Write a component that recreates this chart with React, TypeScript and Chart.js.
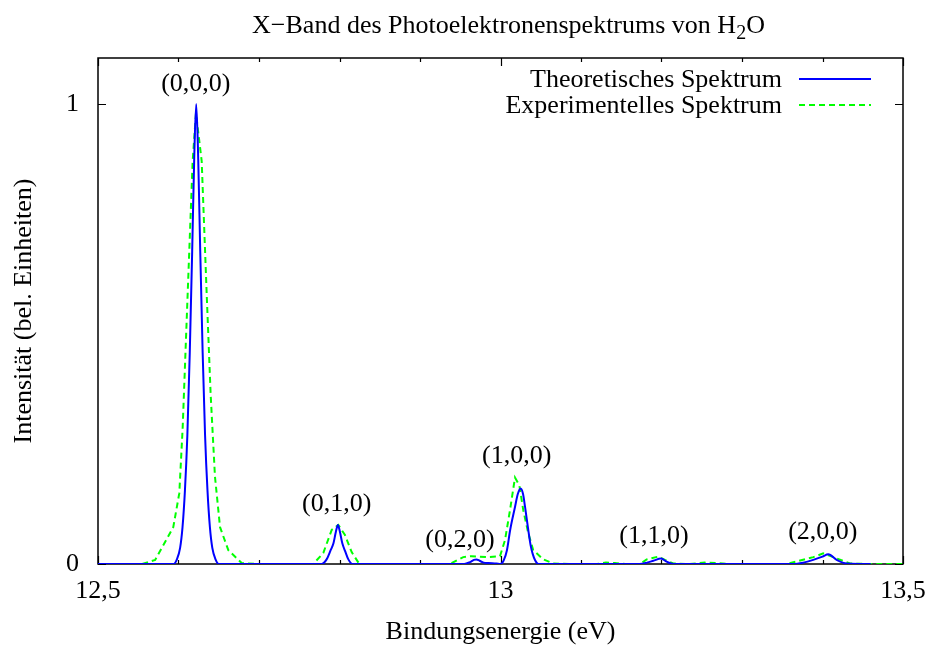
import React, { useEffect, useRef } from 'react';
import { Chart, registerables } from 'chart.js';

Chart.register(...registerables);

// ---- Data ----
const theoX = [
  12.5, 12.594, 12.598, 12.602, 12.605, 12.608, 12.611, 12.614, 12.617, 12.6195, 12.622,
  12.6245, 12.627, 12.63, 12.633, 12.636, 12.639, 12.642, 12.646, 12.65,
  12.778, 12.784, 12.789, 12.7925, 12.7955, 12.798, 12.8005, 12.8035, 12.807, 12.811, 12.816,
  12.955, 12.962, 12.967, 12.97, 12.974, 12.979, 12.985, 12.995,
  13.0, 13.004, 13.008, 13.012, 13.018, 13.0215, 13.025, 13.028, 13.0305, 13.0345, 13.0375, 13.04, 13.043, 13.047,
  13.173, 13.182, 13.1898, 13.1994, 13.2064, 13.2147,
  13.3637, 13.376, 13.3885, 13.4, 13.4072, 13.4176, 13.43, 13.46,
];
const theoY = [
  0, 0, 0.01, 0.035, 0.08, 0.16, 0.28, 0.46, 0.68, 0.88, 1.0,
  0.88, 0.68, 0.46, 0.28, 0.16, 0.08, 0.035, 0.01, 0,
  0, 0.01, 0.03, 0.045, 0.07, 0.085, 0.07, 0.045, 0.028, 0.01, 0,
  0, 0.004, 0.009, 0.01, 0.007, 0.003, 0.002, 0.001,
  0, 0.008, 0.03, 0.074, 0.124, 0.152, 0.164, 0.152, 0.124, 0.074, 0.04, 0.022, 0.008, 0,
  0, 0.003, 0.007, 0.012, 0.005, 0,
  0, 0.003, 0.009, 0.016, 0.021, 0.009, 0.001, 0,
];

const expX = [
  12.555, 12.571, 12.5935, 12.601, 12.6052, 12.6114, 12.6176, 12.6217, 12.6288, 12.635, 12.6399,
  12.6453, 12.6516, 12.6619, 12.6785, 12.7, 12.74,
  12.7674, 12.7799, 12.7903, 12.7985, 12.8068, 12.8151, 12.8246, 12.86, 12.9,
  12.9373, 12.9537, 12.9641, 12.9829, 12.9994, 13.0056, 13.0118, 13.018, 13.0234, 13.0283,
  13.0345, 13.0407, 13.0532, 13.0656, 13.09, 13.12, 13.131, 13.142, 13.155,
  13.1733, 13.1816, 13.196, 13.2043, 13.2147, 13.235, 13.254, 13.27, 13.285,
  13.3555, 13.3885, 13.4009, 13.4134, 13.4341, 13.46, 13.5,
];
const expY = [
  0, 0.009, 0.08, 0.154, 0.297, 0.588, 0.876, 0.98, 0.876, 0.588, 0.37,
  0.19, 0.08, 0.03, 0.002, 0, 0,
  0, 0.024, 0.074, 0.085, 0.063, 0.026, 0, 0, 0,
  0, 0.015, 0.017, 0.015, 0.017, 0.052, 0.117, 0.188, 0.171, 0.117,
  0.067, 0.03, 0.01, 0.001, 0, 0, 0.003, 0.002, 0,
  0, 0.01, 0.016, 0.009, 0.001, 0, 0.003, 0.002, 0,
  0, 0.015, 0.023, 0.015, 0.001, 0, 0,
];

const xMajorTicks = [12.5, 13, 13.5];
const xMinorTicks = [12.6, 12.7, 12.8, 12.9, 13.1, 13.2, 13.3, 13.4];
const yMajorTicks = [0, 1];

const peakLabels = ['(0,0,0)', '(0,1,0)', '(0,2,0)', '(1,0,0)', '(1,1,0)', '(2,0,0)'];
const peakLabelX = [12.6215, 12.7965, 12.9497, 13.0201, 13.1907, 13.4004];
const peakLabelY = [1.028, 0.116, 0.038, 0.22, 0.0467, 0.0553];

const seriesNames = ['Theoretisches Spektrum', 'Experimentelles Spektrum'];
const titleMain = 'X\u2212Band des Photoelektronenspektrums von H';
const titleSub = '2';
const titleEnd = 'O';
const xTitle = 'Bindungsenergie (eV)';
const yTitle = 'Intensität (bel. Einheiten)';

// ---- Styles ----
const FONT = '"Liberation Serif", "Times New Roman", serif';
const FS = 26;
const BLUE = '#0000ff';
const GREEN = '#00ff00';
const DASH = [6, 4];

const decorPlugin = {
  id: 'decor',
  beforeDatasetsDraw(chart: any) {
    const { ctx, chartArea: a } = chart;
    const x = chart.scales.x;
    const y = chart.scales.y;
    ctx.save();
    ctx.strokeStyle = '#000';
    ctx.lineWidth = 1.5;
    ctx.strokeRect(a.left, a.top, a.right - a.left, a.bottom - a.top);
    ctx.lineWidth = 1.2;
    ctx.beginPath();
    const major = 8;
    const minor = 4;
    xMajorTicks.forEach((v) => {
      const px = Math.round(x.getPixelForValue(v)) + 0.5;
      ctx.moveTo(px, a.bottom); ctx.lineTo(px, a.bottom - major);
      ctx.moveTo(px, a.top); ctx.lineTo(px, a.top + major);
    });
    xMinorTicks.forEach((v) => {
      const px = Math.round(x.getPixelForValue(v)) + 0.5;
      ctx.moveTo(px, a.bottom); ctx.lineTo(px, a.bottom - minor);
      ctx.moveTo(px, a.top); ctx.lineTo(px, a.top + minor);
    });
    yMajorTicks.forEach((v) => {
      const py = Math.round(y.getPixelForValue(v)) + 0.5;
      ctx.moveTo(a.left, py); ctx.lineTo(a.left + major, py);
      ctx.moveTo(a.right, py); ctx.lineTo(a.right - major, py);
    });
    ctx.stroke();
    ctx.restore();
  },
  afterDraw(chart: any) {
    const { ctx, chartArea: a } = chart;
    const x = chart.scales.x;
    const y = chart.scales.y;
    ctx.save();
    ctx.fillStyle = '#000';
    ctx.font = `${FS}px ${FONT}`;

    // Title with subscript
    const subFont = `${Math.round(FS * 0.75)}px ${FONT}`;
    const w1 = ctx.measureText(titleMain).width;
    const w3 = ctx.measureText(titleEnd).width;
    ctx.font = subFont;
    const w2 = ctx.measureText(titleSub).width;
    const total = w1 + w2 + w3;
    const cx = (a.left + a.right) / 2 + 8;
    let tx = cx - total / 2;
    const tBase = 33;
    ctx.textAlign = 'left';
    ctx.textBaseline = 'alphabetic';
    ctx.font = `${FS}px ${FONT}`;
    ctx.fillText(titleMain, tx, tBase);
    tx += w1;
    ctx.font = subFont;
    ctx.fillText(titleSub, tx, tBase + 6);
    tx += w2;
    ctx.font = `${FS}px ${FONT}`;
    ctx.fillText(titleEnd, tx, tBase);

    // X axis title
    ctx.textAlign = 'center';
    ctx.fillText(xTitle, (a.left + a.right) / 2, 639);

    // Y axis title
    ctx.save();
    ctx.translate(24, (a.top + a.bottom) / 2);
    ctx.rotate(-Math.PI / 2);
    ctx.textAlign = 'center';
    ctx.textBaseline = 'middle';
    ctx.fillText(yTitle, 0, 0);
    ctx.restore();

    // Peak labels
    ctx.textAlign = 'center';
    ctx.textBaseline = 'alphabetic';
    peakLabels.forEach((t, i) => {
      ctx.fillText(t, x.getPixelForValue(peakLabelX[i]), y.getPixelForValue(peakLabelY[i]));
    });

    // Legend (gnuplot style)
    const textRight = a.right - 121;
    const lineL = a.right - 104;
    const lineR = a.right - 32;
    const rows = [79, 105];
    const colors = [BLUE, GREEN];
    ctx.textAlign = 'right';
    ctx.textBaseline = 'middle';
    seriesNames.forEach((n, i) => {
      ctx.fillStyle = '#000';
      ctx.fillText(n, textRight, rows[i] + 1);
      ctx.strokeStyle = colors[i];
      ctx.lineWidth = 2;
      ctx.setLineDash(i === 1 ? DASH : []);
      ctx.beginPath();
      ctx.moveTo(lineL, rows[i]);
      ctx.lineTo(lineR, rows[i]);
      ctx.stroke();
    });
    ctx.setLineDash([]);
    ctx.restore();
  },
};

export default function App() {
  const ref = useRef<HTMLCanvasElement | null>(null);

  useEffect(() => {
    document.body.style.margin = '0';
    const canvas = ref.current;
    if (!canvas) return;
    const theo = theoX.map((v, i) => ({ x: v, y: theoY[i] }));
    const exp = expX.map((v, i) => ({ x: v, y: expY[i] }));
    const chart = new Chart(canvas, {
      type: 'line',
      data: {
        datasets: [
          {
            label: seriesNames[0],
            data: theo,
            borderColor: BLUE,
            backgroundColor: BLUE,
            borderWidth: 2,
            pointRadius: 0,
            cubicInterpolationMode: 'monotone',
            fill: false,
          },
          {
            label: seriesNames[1],
            data: exp,
            borderColor: GREEN,
            backgroundColor: GREEN,
            borderWidth: 2,
            borderDash: DASH,
            pointRadius: 0,
            tension: 0,
            fill: false,
          },
        ],
      },
      options: {
        animation: false,
        responsive: false,
        devicePixelRatio: 1,
        parsing: false,
        layout: { padding: { left: 0, right: 28, top: 58, bottom: 0 } },
        plugins: {
          legend: { display: false },
          title: { display: false },
          tooltip: { enabled: false },
        },
        scales: {
          x: {
            type: 'linear',
            position: 'bottom',
            min: 12.5,
            max: 13.5,
            grid: { display: false, drawTicks: false },
            border: { display: false },
            afterBuildTicks: (s: any) => {
              s.ticks = xMajorTicks.map((v) => ({ value: v }));
            },
            afterFit: (s: any) => {
              s.height = 84;
              s.paddingLeft = 0;
              s.paddingRight = 0;
            },
            ticks: {
              padding: 12,
              color: '#000',
              font: { family: FONT, size: FS },
              maxRotation: 0,
              autoSkip: false,
              callback: (v: any) => String(v).replace('.', ','),
            },
          },
          y: {
            type: 'linear',
            min: 0,
            max: 1.1,
            grid: { display: false, drawTicks: false },
            border: { display: false },
            afterBuildTicks: (s: any) => {
              s.ticks = yMajorTicks.map((v) => ({ value: v }));
            },
            afterFit: (s: any) => {
              s.width = 98;
              s.paddingTop = 0;
              s.paddingBottom = 0;
            },
            ticks: {
              padding: 19,
              color: '#000',
              font: { family: FONT, size: FS },
              autoSkip: false,
              callback: (v: any) => String(v).replace('.', ','),
            },
          },
        },
      } as any,
      plugins: [decorPlugin],
    });
    return () => chart.destroy();
  }, []);

  return (
    <div style={{ width: 931, height: 648 }}>
      <canvas ref={ref} width={931} height={648} style={{ display: 'block' }} />
    </div>
  );
}
